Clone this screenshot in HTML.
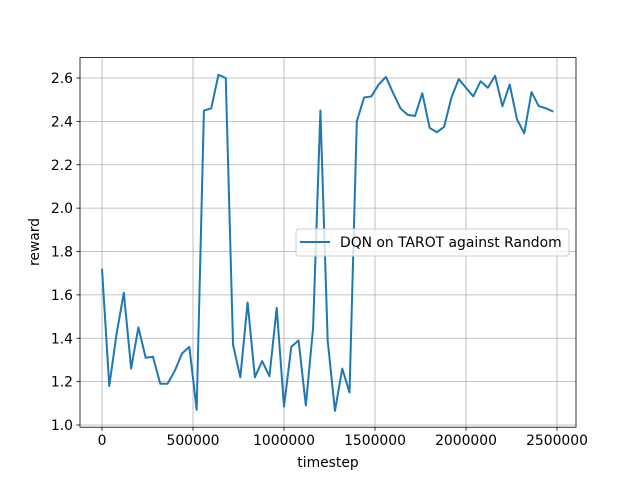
<!DOCTYPE html>
<html><head><meta charset="utf-8"><style>
body{margin:0;background:#fff}
svg{display:block;font-family:"DejaVu Sans","Liberation Sans",sans-serif}
</style></head><body>
<svg id="chart" width="640" height="480" viewBox="0 0 640 480" xmlns="http://www.w3.org/2000/svg">
<rect width="640" height="480" fill="#fff"/>
<g id="grid"></g>
<g id="ticks"></g>
<path id="line" fill="none" stroke="#1f77b4" stroke-width="2" stroke-linejoin="round"/>
<rect x="80" y="57.6" width="496" height="369.6" fill="none" stroke="#000" stroke-width="0.8"/>
<text x="328" y="467" text-anchor="middle" font-size="13.9">timestep</text>
<text transform="translate(39,242) rotate(-90)" text-anchor="middle" font-size="13.9">reward</text>
<g>
<rect x="296" y="229" width="273" height="27" rx="3" fill="#fff" fill-opacity="0.8" stroke="#ccc" stroke-width="1"/>
<line x1="300" y1="242" x2="330" y2="242" stroke="#1f77b4" stroke-width="2"/>
<text x="340" y="247" font-size="13.9">DQN on TAROT against Random</text>
</g>
</svg>
<script>
const xTicks=[0,500000,1000000,1500000,2000000,2500000];
const yTicks=[1.0,1.2,1.4,1.6,1.8,2.0,2.2,2.4,2.6];
const yTickLabels=["1.0","1.2","1.4","1.6","1.8","2.0","2.2","2.4","2.6"];
const stepSize=40000;
const rewards=[1.72,1.18,1.42,1.61,1.26,1.45,1.31,1.315,1.19,1.19,1.25,1.33,1.36,1.07,2.45,2.46,2.615,2.60,1.37,1.22,1.565,1.22,1.295,1.225,1.54,1.085,1.36,1.39,1.09,1.45,2.45,1.39,1.065,1.26,1.15,2.40,2.51,2.515,2.57,2.605,2.53,2.46,2.43,2.425,2.53,2.37,2.35,2.375,2.51,2.595,2.555,2.515,2.585,2.555,2.61,2.47,2.57,2.41,2.345,2.535,2.47,2.46,2.445];
const timesteps=rewards.map((_,i)=>i*stepSize);
function xs(v){return 102+(v/500000)*91;}
function ys(v){return 425-(v-1.0)*216.875;}
const NS="http://www.w3.org/2000/svg";
const grid=document.getElementById('grid'),ticks=document.getElementById('ticks');
function mk(tag,attrs,parent){const e=document.createElementNS(NS,tag);for(const k in attrs)e.setAttribute(k,attrs[k]);parent.appendChild(e);return e;}
xTicks.forEach(t=>{const x=xs(t);
 const g=mk('line',{x1:x,x2:x,y1:57.6,y2:427.2,stroke:'#b0b0b0','stroke-width':0.8},grid);
 
 
 mk('line',{x1:x,x2:x,y1:427.2,y2:430.7,stroke:'#000','stroke-width':0.8},ticks);
 const tx=mk('text',{x:x,y:445,'text-anchor':'middle','font-size':13.9},ticks);tx.textContent=String(t);
 
 
});
yTicks.forEach((t,i)=>{const y=ys(t);
 const g=mk('line',{x1:80,x2:576,y1:y,y2:y,stroke:'#b0b0b0','stroke-width':0.8},grid);
 
 
 mk('line',{x1:76.5,x2:80,y1:y,y2:y,stroke:'#000','stroke-width':0.8},ticks);
 const tx=mk('text',{x:73,y:y+5,'text-anchor':'end','font-size':13.9},ticks);tx.textContent=yTickLabels[i];
 
 
});
document.getElementById('line').setAttribute('d',rewards.map((v,i)=>(i?'L':'M')+xs(timesteps[i]).toFixed(2)+','+ys(v).toFixed(2)).join(''));
</script>
</body></html>
